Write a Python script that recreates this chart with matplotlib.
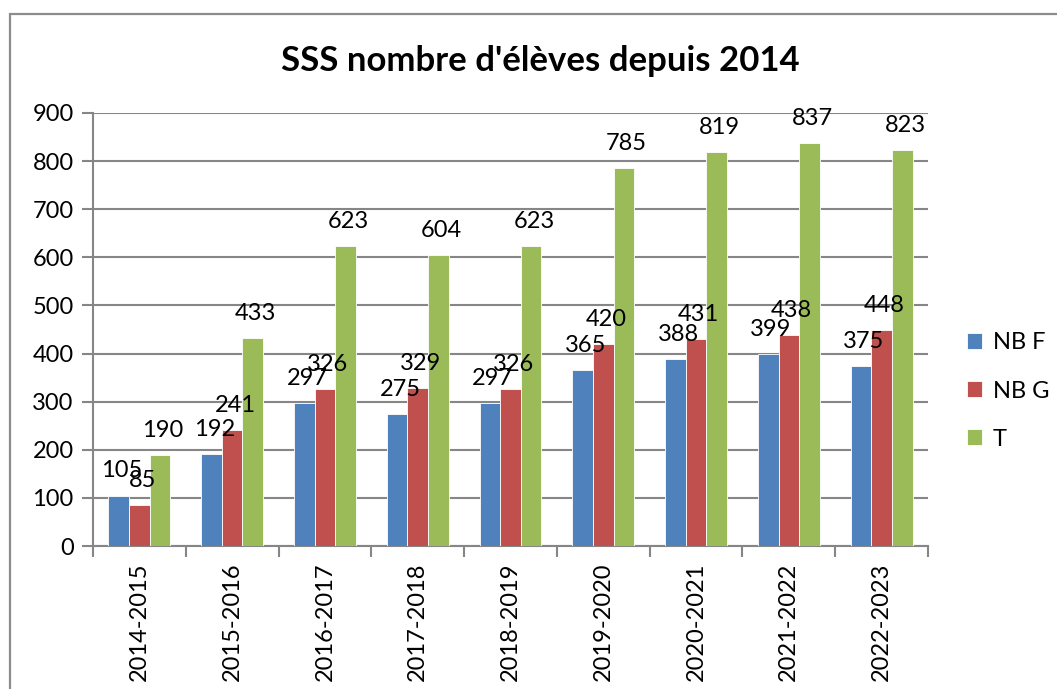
import matplotlib.pyplot as plt
from matplotlib.patches import Rectangle
import numpy as np

plt.rcParams['font.family'] = ['Lato', 'DejaVu Sans']

years = ['2014-2015', '2015-2016', '2016-2017', '2017-2018', '2018-2019',
         '2019-2020', '2020-2021', '2021-2022', '2022-2023']
nb_f = [105, 192, 297, 275, 297, 365, 388, 399, 375]
nb_g = [85, 241, 326, 329, 326, 420, 431, 438, 448]
total = [190, 433, 623, 604, 623, 785, 819, 837, 823]

series = [('NB F', nb_f, '#4F81BD'), ('NB G', nb_g, '#C0504D'), ('T', total, '#9BBB59')]
grid_c = '#868686'

fig = plt.figure(figsize=(10.57, 6.89), dpi=100)
fig.patch.set_facecolor('white')
# chart area border (only top and left visible in the reference)
fig.patches.append(Rectangle((0.0095, -0.1), 1.2, 1.0797, transform=fig.transFigure,
                             fill=False, edgecolor='#8c8c8c', linewidth=1.6))

ax = fig.add_axes([0.088, 0.2075, 0.79, 0.6285])
x = np.arange(len(years))
w = 1 / 4.5
for i, (name, vals, col) in enumerate(series):
    pos = x + (i - 1) * w
    ax.bar(pos, vals, width=w, color=col, edgecolor='white', linewidth=0.6,
           label=name, zorder=3)
    for p, v in zip(pos, vals):
        ax.annotate(str(v), (p, v), xytext=(2, 13), textcoords='offset points',
                    ha='center', va='baseline', fontsize=17, zorder=4)

ax.set_xlim(-0.5, len(years) - 0.5)
ax.set_ylim(0, 900)
ax.set_yticks(range(0, 901, 100))
ax.yaxis.grid(True, color=grid_c, linewidth=1.5, zorder=0)
ax.set_axisbelow(True)

ax.set_xticks(x)
ax.set_xticklabels(years, rotation=90, fontsize=17)
ax.set_xticks(np.arange(-0.5, len(years), 1), minor=True)
ax.tick_params(axis='x', which='major', length=0, pad=12)
ax.tick_params(axis='x', which='minor', length=8, width=1.5, color=grid_c)
ax.tick_params(axis='y', length=8, width=1.5, color=grid_c, labelsize=17, pad=6)

for s in ['top', 'right']:
    ax.spines[s].set_visible(False)
for s in ['left', 'bottom']:
    ax.spines[s].set_color(grid_c)
    ax.spines[s].set_linewidth(1.5)

fig.text(0.511, 0.912, "SSS nombre d'élèves depuis 2014", ha='center', va='center',
         fontsize=25, fontweight='bold')

ax.legend(loc='center left', bbox_to_anchor=(1.021, 0.358), frameon=False,
          fontsize=17, handlelength=0.65, handleheight=0.65, handletextpad=0.45,
          labelspacing=1.15)

fig.savefig('out.png', dpi=100, facecolor='white')
